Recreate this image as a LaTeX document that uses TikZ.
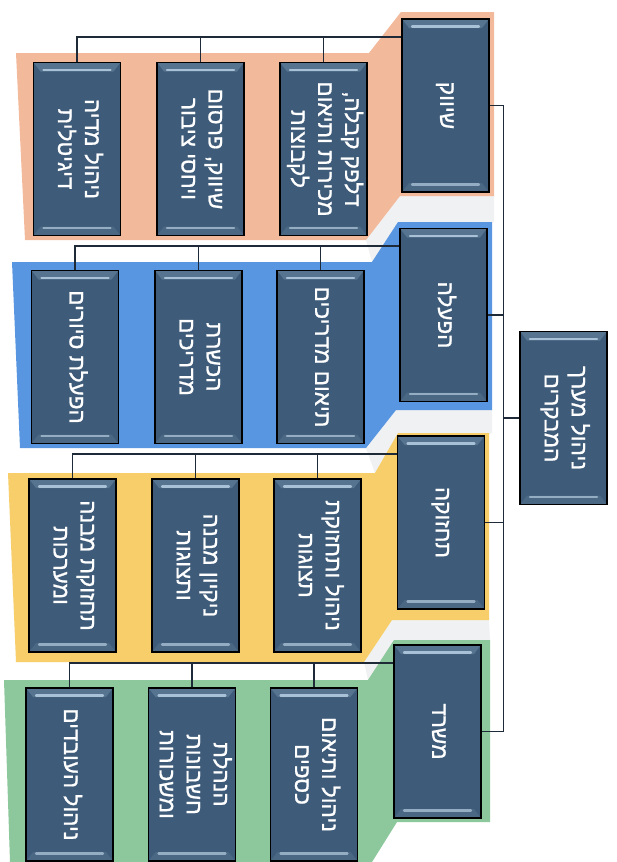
\documentclass[tikz,border=0pt]{standalone}
\usepackage{fontspec}
\newfontfamily\hebfont[Script=Hebrew,FakeBold=0.9]{Liberation Sans}
\TeXXeTstate=1
\newcommand\heb[1]{\beginR #1\endR}
\newcommand\rtxt[1]{\rotatebox{-90}{\begin{tabular}{@{}c@{}}#1\end{tabular}}}
\usetikzlibrary{calc}
\definecolor{bgorange}{HTML}{F3B99B}
\definecolor{bgblue}{HTML}{5896E1}
\definecolor{bgyellow}{HTML}{F7CE6A}
\definecolor{bggreen}{HTML}{8CC89B}
\definecolor{boxc}{HTML}{3E5B79}
\definecolor{boxtop}{HTML}{56738F}
\definecolor{boxbot}{HTML}{4A6784}
\definecolor{boxhl}{HTML}{A9C1D6}
\definecolor{connc}{HTML}{1E2A38}
\definecolor{shadowc}{HTML}{F0F1F2}
\tikzset{
  box/.style={draw=black, line width=1.1pt, fill=boxc, text=white,
    minimum width=87pt, minimum height=173pt, inner sep=0pt,
    font=\hebfont\fontsize{22.5}{27}\selectfont,
    path picture={
      \fill[boxtop] (path picture bounding box.north west) -- (path picture bounding box.north east)
        -- ([xshift=-7pt,yshift=-9pt]path picture bounding box.north east)
        -- ([xshift=7pt,yshift=-9pt]path picture bounding box.north west) -- cycle;
      \fill[boxbot] (path picture bounding box.south west) -- (path picture bounding box.south east)
        -- ([xshift=-7pt,yshift=9pt]path picture bounding box.south east)
        -- ([xshift=7pt,yshift=9pt]path picture bounding box.south west) -- cycle;
      \draw[boxhl, line width=2.2pt, line cap=round]
        ([xshift=10pt,yshift=-7.5pt]path picture bounding box.north west) --
        ([xshift=-10pt,yshift=-7.5pt]path picture bounding box.north east);
      \draw[boxhl!80!boxc, line width=2.2pt, line cap=round]
        ([xshift=10pt,yshift=7.5pt]path picture bounding box.south west) --
        ([xshift=-10pt,yshift=7.5pt]path picture bounding box.south east);
    }},
  conn/.style={draw=connc, line width=1.2pt}
}
\begin{document}
\begin{tikzpicture}[x=1pt,y=-1pt]
\useasboundingbox (0,0) rectangle (616,862);
\fill[white] (0,0) rectangle (616,862);
% faint shadows
\fill[shadowc] (380,196) -- (494,196) -- (494,222) -- (372,262) -- (366,240) -- cycle;
\fill[shadowc] (380,410) -- (492,410) -- (492,433) -- (375,473) -- (366,448) -- cycle;
\fill[shadowc] (378,620) -- (489,620) -- (490,640) -- (368,680) -- (364,662) -- cycle;
% backgrounds
\fill[bgorange] (16,53) -- (369,53) -- (401,12) -- (494,12) -- (494,196) -- (400,196) -- (366,240) -- (25,240) -- cycle;
\fill[bgblue] (12,262) -- (372,262) -- (398,222) -- (492,222) -- (492,410) -- (396,410) -- (366,448) -- (20,448) -- cycle;
\fill[bgyellow] (8,473) -- (375,473) -- (398,433) -- (489,433) -- (489,620) -- (392,620) -- (364,662) -- (16,662) -- cycle;
\fill[bggreen] (4,680) -- (368,680) -- (394,640) -- (490,640) -- (490,822) -- (397,822) -- (372,862) -- (10,862) -- cycle;

% root
\node[box] (root) at (563.5,418) {\rtxt{\heb{ניהול מערך}\\\heb{המבקרים}}};

% group 1
\node[box] (g1) at (445.5,105.5) {\rtxt{\heb{שיווק}}};
\node[box] (g1a) at (323.5,149) {\rtxt{\heb{דלפק קבלה,}\\\heb{מכירות ותיאום}\\\heb{לקבוצות}}};
\node[box] (g1b) at (200.5,149) {\rtxt{\heb{שיווק, פרסום}\\\heb{ויחסי ציבור}}};
\node[box] (g1c) at (77,149) {\rtxt{\heb{ניהול מדיה}\\\heb{דיגיטלית}}};

% group 2
\node[box] (g2) at (443.5,315) {\rtxt{\heb{הפעלה}}};
\node[box] (g2a) at (320.5,357) {\rtxt{\heb{תיאום מדריכים}}};
\node[box] (g2b) at (198.5,357) {\rtxt{\heb{הכשרת}\\\heb{מדריכים}}};
\node[box] (g2c) at (75,357) {\rtxt{\heb{הפעלת סיורים}}};

% group 3
\node[box] (g3) at (441,522.5) {\rtxt{\heb{תחזוקה}}};
\node[box] (g3a) at (317.5,565.5) {\rtxt{\heb{ניהול ותחזוקת}\\\heb{תצוגות}}};
\node[box] (g3b) at (195.5,565.5) {\rtxt{\heb{ניקיון מבנה}\\\heb{ותצוגות}}};
\node[box] (g3c) at (72.5,565.5) {\rtxt{\heb{תחזוקת מבנה}\\\heb{ומערכות}}};

% group 4
\node[box] (g4) at (437.5,731.5) {\rtxt{\heb{משרד}}};
\node[box] (g4a) at (314,774.5) {\rtxt{\heb{ניהול ותיאום}\\\heb{כספים}}};
\node[box] (g4b) at (192,774.5) {\rtxt{\heb{הנהלת}\\\heb{חשבונות}\\\heb{ומשכורות}}};
\node[box] (g4c) at (69.5,774.5) {\rtxt{\heb{ניהול העובדים}}};

% spine
\draw[conn] (root.west) -- ++(-16,0) coordinate (sp);
\foreach \g in {g1,g2,g3,g4}{
  \draw[conn] (\g.east) -| (sp);
}
% children bars
\coordinate (b1) at (0,37);
\coordinate (b2) at (0,246);
\coordinate (b3) at (0,454);
\coordinate (b4) at (0,663);
\foreach \g/\b in {g1/b1,g2/b2,g3/b3,g4/b4}{
  \draw[conn] (\g.west |- \b) -- (\g c.north |- \b) -- (\g c.north);
  \draw[conn] (\g a.north |- \b) -- (\g a.north);
  \draw[conn] (\g b.north |- \b) -- (\g b.north);
}
\end{tikzpicture}
\end{document}
